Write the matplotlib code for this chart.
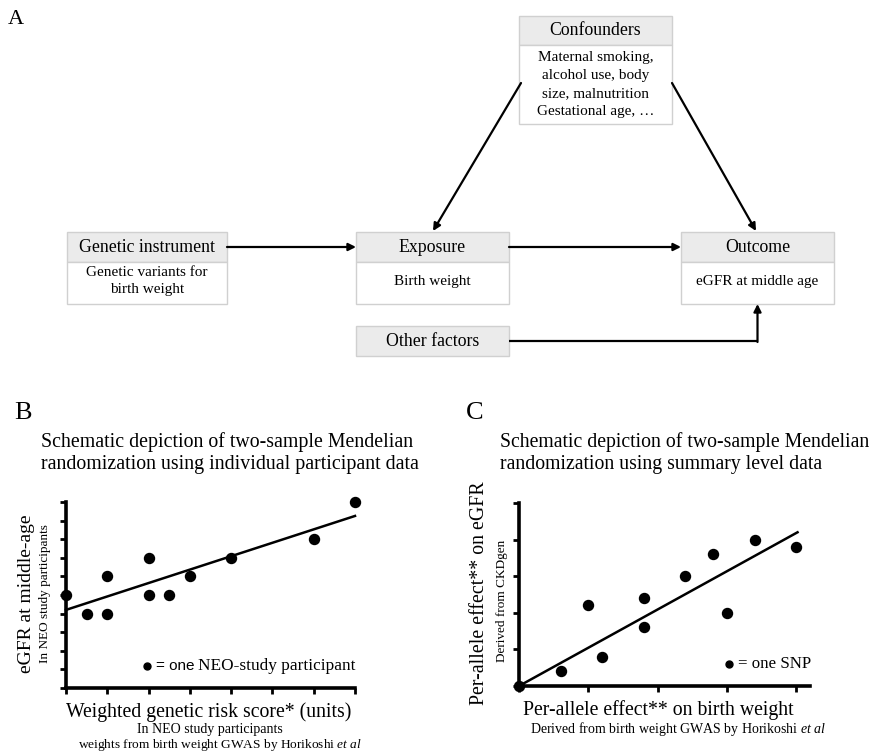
import matplotlib.pyplot as plt
from matplotlib.patches import Rectangle

plt.rcParams['font.family'] = ['Liberation Serif', 'DejaVu Serif']
plt.rcParams['mathtext.fontset'] = 'custom'
plt.rcParams['mathtext.rm'] = 'Liberation Serif'
plt.rcParams['mathtext.it'] = 'Liberation Serif:italic'

# Panel B: individual participant data (GRS units vs eGFR units)
grs_x = [0, 0.5, 1, 1, 2, 2, 2.5, 3, 4, 6, 7]
egfr_y = [5, 4, 4, 6, 7, 5, 5, 6, 7, 8, 10]
fit_b_x = [0, 7]
fit_b_y = [4.2, 9.25]

# Panel C: summary level data (per-SNP effects)
snp_bw = [0, 0.6, 1.0, 1.2, 1.8, 1.8, 2.4, 2.8, 3.0, 3.4, 4.0]
snp_egfr = [0, 0.4, 2.2, 0.8, 2.4, 1.6, 3.0, 3.6, 2.0, 4.0, 3.8]
fit_c_x = [0, 4.02]
fit_c_y = [0, 4.2]

W, H = 877, 752
fig = plt.figure(figsize=(W / 100, H / 100), dpi=100)
renderer = fig.canvas.get_renderer()

# full-figure overlay in pixel units for the diagram and free text
ov = fig.add_axes([0, 0, 1, 1])
ov.set_xlim(0, W)
ov.set_ylim(H, 0)
ov.axis('off')

HEAD_FC = '#ebebeb'
EDGE = '#d0d0d0'


def box(x0, x1, ytop, yhead, ybot, header, body=None, body_y=None):
    ov.add_patch(Rectangle((x0, ytop), x1 - x0, yhead - ytop, fc=HEAD_FC, ec=EDGE, lw=1))
    if ybot > yhead:
        ov.add_patch(Rectangle((x0, yhead), x1 - x0, ybot - yhead, fc='white', ec=EDGE, lw=1))
    xc = (x0 + x1) / 2
    ov.text(xc, (ytop + yhead) / 2, header, ha='center', va='center', fontsize=12.8)
    if body:
        for line, y in zip(body, body_y):
            ov.text(xc, y, line, ha='center', va='center', fontsize=11)


def arrow(x0, y0, x1, y1):
    ov.annotate('', xy=(x1, y1), xytext=(x0, y0),
                arrowprops=dict(arrowstyle='-|>', color='black', lw=1.6,
                                mutation_scale=11, shrinkA=0, shrinkB=0))


def legend_key(x, y, parts, gap=4):
    # dot followed by text pieces laid out left to right
    ov.plot([x], [y], 'o', color='black', ms=5)
    cx = x + 9
    for s, kw in parts:
        t = ov.text(cx, y, s, va='center', ha='left', **kw)
        cx += t.get_window_extent(renderer).width + gap


ov.text(8, 20, 'A', fontsize=16, va='center')

box(519, 672, 16, 45, 124, 'Confounders',
    ['Maternal smoking,', 'alcohol use, body', 'size, malnutrition', 'Gestational age, \u2026'],
    [58, 76, 94, 112])
box(67, 227, 232, 262, 304, 'Genetic instrument',
    ['Genetic variants for', 'birth weight'], [272, 290])
box(356, 509, 232, 262, 304, 'Exposure', ['Birth weight'], [281])
box(681, 834, 232, 262, 304, 'Outcome', ['eGFR at middle age'], [281])
box(356, 509, 326, 356, 356, 'Other factors')

arrow(227, 247, 356, 247)
arrow(509, 247, 681, 247)
arrow(521, 83, 433, 231)
arrow(672, 83, 756, 231)
ov.plot([509, 758], [341, 341], color='black', lw=1.6, solid_capstyle='butt')
arrow(757.5, 342, 757.5, 304)


def scatter_axes(rect, xlim, ylim, xticks, yticks):
    l, r, t, b = rect
    ax = fig.add_axes([l / W, 1 - b / H, (r - l) / W, (b - t) / H])
    ax.set_xlim(*xlim)
    ax.set_ylim(*ylim)
    for s in ('top', 'right'):
        ax.spines[s].set_visible(False)
    for s in ('left', 'bottom'):
        ax.spines[s].set_linewidth(2.6)
    ax.set_xticks(xticks)
    ax.set_yticks(yticks)
    ax.tick_params(direction='out', length=4, width=2, labelbottom=False, labelleft=False)
    ax.patch.set_alpha(0)
    return ax


# Panel B
ov.text(14, 413, 'B', fontsize=19, va='center')
ov.text(41, 442, 'Schematic depiction of two-sample Mendelian', fontsize=14.3, va='center')
ov.text(41, 465, 'randomization using individual participant data', fontsize=14.3, va='center')

axb = scatter_axes((66, 355, 502, 688), (0, 7), (0, 10), range(8), range(11))
axb.plot(fit_b_x, fit_b_y, color='black', lw=1.8, clip_on=False)
axb.plot(grs_x, egfr_y, 'o', color='black', ms=7.2, clip_on=False)

ov.text(27, 594, 'eGFR at middle-age', rotation=90, fontsize=14, ha='center', va='center')
ov.text(45, 594, 'In NEO study participants', rotation=90, fontsize=9.5, ha='center', va='center')
legend_key(147, 666, [('= one', dict(family=['Liberation Sans'], fontsize=11)),
                      ('NEO-study participant', dict(fontsize=12.4))])
ov.text(209, 712, 'Weighted genetic risk score* (units)', fontsize=14.2, ha='center', va='center')
ov.text(210, 729, 'In NEO study participants', fontsize=10, ha='center', va='center')
ov.text(220, 745, 'weights from birth weight GWAS by Horikoshi $\\it{et\\ al}$',
        fontsize=9.6, ha='center', va='center')

# Panel C
ov.text(466, 413, 'C', fontsize=19, va='center')
ov.text(500, 442, 'Schematic depiction of two-sample Mendelian', fontsize=14.2, va='center')
ov.text(500, 465, 'randomization using summary level data', fontsize=14.2, va='center')

axc = scatter_axes((519, 810, 503, 686), (0, 4.2), (0, 5), range(5), range(6))
axc.plot(fit_c_x, fit_c_y, color='black', lw=1.8, clip_on=False)
axc.plot(snp_bw, snp_egfr, 'o', color='black', ms=7.2, clip_on=False)

ov.text(480, 593, 'Per-allele effect** on eGFR', rotation=90, fontsize=14.3, ha='center', va='center')
ov.text(502, 601, 'Derived from CKDgen', rotation=90, fontsize=9.5, ha='center', va='center')
legend_key(729, 664, [('= one SNP', dict(fontsize=12.2))])
ov.text(658, 710, 'Per-allele effect** on birth weight', fontsize=14.2, ha='center', va='center')
ov.text(678, 729, 'Derived from birth weight GWAS by Horikoshi $\\it{et\\ al}$',
        fontsize=10, ha='center', va='center')

fig.savefig('out.png', dpi=100)
